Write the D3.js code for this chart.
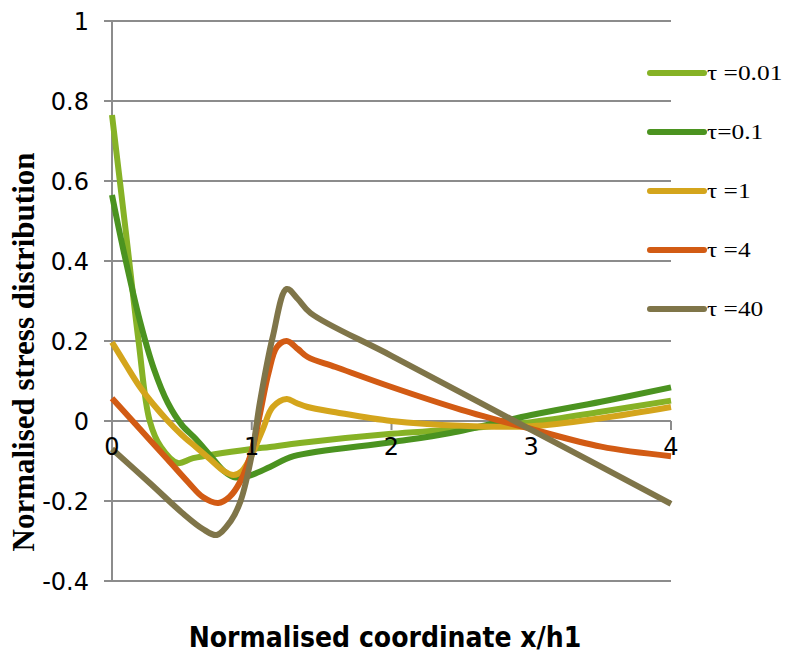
<!DOCTYPE html>
<html>
<head>
<meta charset="utf-8">
<script src="https://cdn.jsdelivr.net/npm/d3@7.9.0/dist/d3.min.js"></script>
<style>
  body { margin: 0; background: #fff; }
  svg { display: block; }
</style>
</head>
<body>
<svg id="chart" width="788" height="655"></svg>
<script>
// tick labels
const yTicks = [-0.4, -0.2, 0, 0.2, 0.4, 0.6, 0.8, 1];
const xTicks = [0, 1, 2, 3, 4];

// series labels
const labels = ['τ =0.01', 'τ=0.1', 'τ =1', 'τ =4', 'τ =40'];

// [x/h1, stress]
const tau001 = [[0, 0.765], [0.1, 0.47], [0.19, 0.2], [0.27, 0.0], [0.35, -0.065], [0.47, -0.105],
  [0.58, -0.093], [1.0, -0.07], [1.13, -0.065], [1.345, -0.055], [2, -0.032], [2.42, -0.022],
  [3, -0.003], [3.5, 0.023], [4, 0.051]];
const tau01 = [[0, 0.565], [0.08, 0.43], [0.2, 0.25], [0.3, 0.13], [0.4, 0.045], [0.5, -0.01],
  [0.6, -0.045], [0.7, -0.085], [0.8, -0.125], [0.87, -0.14], [0.95, -0.14], [1.0, -0.135],
  [1.13, -0.115], [1.3, -0.088], [2, -0.053], [2.42, -0.03], [3, 0.015], [3.5, 0.048], [4, 0.084]];
const tau1 = [[0, 0.197], [0.1, 0.14], [0.2, 0.085], [0.3, 0.04], [0.4, 0.0], [0.5, -0.035],
  [0.6, -0.065], [0.7, -0.095], [0.8, -0.125], [0.87, -0.135], [0.93, -0.125], [1.0, -0.085],
  [1.08, -0.02], [1.15, 0.035], [1.25, 0.055], [1.32, 0.045], [1.4, 0.035], [1.6, 0.022],
  [2, 0.0], [2.5, -0.012], [3, -0.013], [3.5, 0.007], [4, 0.035]];
const tau4 = [[0, 0.057], [0.2, -0.02], [0.4, -0.097], [0.55, -0.155], [0.65, -0.19],
  [0.76, -0.205], [0.84, -0.19], [0.92, -0.15], [1.0, -0.075], [1.06, 0.02], [1.12, 0.12],
  [1.18, 0.185], [1.25, 0.2], [1.33, 0.18], [1.4, 0.16], [1.6, 0.135], [2, 0.085],
  [2.5, 0.028], [3, -0.02], [3.5, -0.064], [4, -0.088]];
const tau40 = [[0, -0.07], [0.27, -0.155], [0.51, -0.232], [0.65, -0.27], [0.75, -0.285],
  [0.85, -0.25], [0.92, -0.2], [1.0, -0.085], [1.06, 0.05], [1.15, 0.21], [1.25, 0.33],
  [1.33, 0.305], [1.42, 0.27], [2, 0.163], [3, -0.022], [4, -0.207]];

const series = [tau001, tau01, tau1, tau4, tau40];
const colors = ['#86b226', '#4b9320', '#d4a51c', '#d25b14', '#7f7549'];

let svg = d3.select('#chart');
let margin = { left: 112, top: 21, right: 117, bottom: 74 };
let width = 788 - margin.left - margin.right;
let height = 655 - margin.top - margin.bottom;

let x = d3.scaleLinear().domain([0, 4]).range([margin.left, margin.left + width]);
let y = d3.scaleLinear().domain([-0.4, 1]).range([margin.top + height, margin.top]);

// horizontal grid
svg.append('g')
  .selectAll('line')
  .data(yTicks)
  .join('line')
  .attr('x1', margin.left - 8)
  .attr('x2', x(4))
  .attr('y1', (d) => y(d))
  .attr('y2', (d) => y(d))
  .attr('stroke', '#8c8c8c')
  .attr('stroke-width', 2);

// y axis line
svg.append('line')
  .attr('x1', x(0)).attr('x2', x(0))
  .attr('y1', y(1)).attr('y2', y(-0.4))
  .attr('stroke', '#8c8c8c')
  .attr('stroke-width', 2);

// y tick labels
svg.append('g')
  .selectAll('text')
  .data(yTicks)
  .join('text')
  .attr('x', 89)
  .attr('y', (d) => y(d))
  .attr('dy', '0.36em')
  .attr('text-anchor', 'end')
  .attr('font-family', 'DejaVu Sans, sans-serif')
  .attr('font-size', 24)
  .text((d) => String(d));

// x ticks on the zero line
svg.append('g')
  .selectAll('line')
  .data(xTicks.slice(1))
  .join('line')
  .attr('x1', (d) => x(d)).attr('x2', (d) => x(d))
  .attr('y1', y(0)).attr('y2', y(0) + 9)
  .attr('stroke', '#8c8c8c')
  .attr('stroke-width', 2);

// curves
let line = d3.line()
  .x((d) => x(d[0]))
  .y((d) => y(d[1]))
  .curve(d3.curveCatmullRom.alpha(0.5));

series.forEach((s, idx) => {
  svg.append('path')
    .attr('d', line(s))
    .attr('fill', 'none')
    .attr('stroke', colors[idx])
    .attr('stroke-width', 6)
    .attr('stroke-linejoin', 'round');
});

// x tick labels (drawn over the curves)
svg.append('g')
  .selectAll('text')
  .data(xTicks)
  .join('text')
  .attr('x', (d) => x(d))
  .attr('y', y(0) + 34)
  .attr('text-anchor', 'middle')
  .attr('font-family', 'DejaVu Sans, sans-serif')
  .attr('font-size', 24)
  .text((d) => d);

// legend
let legend = svg.append('g');
labels.forEach((label, idx) => {
  let ly = 73 + idx * 59;
  legend.append('line')
    .attr('x1', 650).attr('x2', 704)
    .attr('y1', ly).attr('y2', ly)
    .attr('stroke', colors[idx])
    .attr('stroke-width', 6)
    .attr('stroke-linecap', 'round');
  legend.append('text')
    .attr('transform', `translate(707, ${ly}) scale(1.27, 1)`)
    .attr('dy', '0.35em')
    .attr('font-family', 'Liberation Serif, Times New Roman, serif')
    .attr('font-size', 20)
    .text(label);
});

// axis titles
svg.append('text')
  .attr('transform', `translate(34, 352) rotate(-90)`)
  .attr('text-anchor', 'middle')
  .attr('font-family', 'Liberation Serif, Times New Roman, serif')
  .attr('font-weight', 'bold')
  .attr('font-size', 31)
  .text('Normalised stress distribution');

svg.append('text')
  .attr('x', 385)
  .attr('y', 647)
  .attr('text-anchor', 'middle')
  .attr('font-family', 'DejaVu Sans Condensed, DejaVu Sans, sans-serif')
  .attr('font-stretch', 'condensed')
  .attr('font-weight', 'bold')
  .attr('font-size', 28)
  .text('Normalised coordinate x/h1');
</script>
</body>
</html>
